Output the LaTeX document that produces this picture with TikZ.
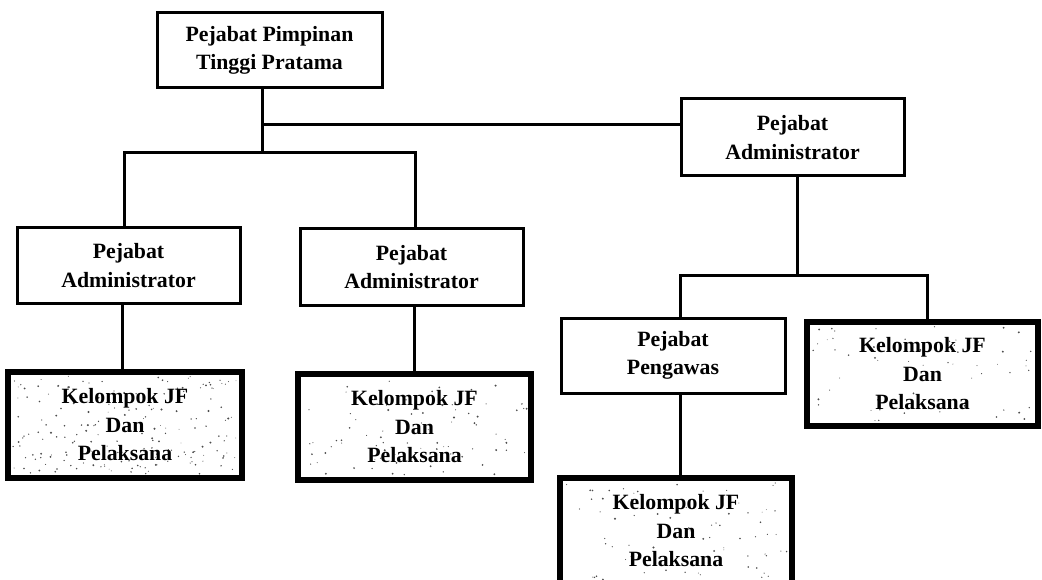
\documentclass[tikz,border=0pt]{standalone}
\usepackage{fontspec}
\setmainfont{Liberation Serif}
\usetikzlibrary{calc}

% light scatter of dots inside a group box
\newcommand\speckles[2]{%
  \coordinate (spA) at ($(#1.south west)+(7,-7)$);
  \coordinate (spB) at ($(#1.north east)+(-7,7)$);
  \foreach \i in {1,...,#2}{%
    \pgfmathsetmacro\spx{rnd}%
    \pgfmathsetmacro\spy{rnd}%
    \pgfmathsetmacro\spr{0.4+0.7*rnd}%
    \coordinate (spX) at ($(spA)!\spx!(spA -| spB)$);
    \coordinate (spY) at ($(spA)!\spy!(spA |- spB)$);
    \fill[black!70] (spX |- spY) circle (\spr pt);
  }%
}

\begin{document}
\begin{tikzpicture}[x=1pt,y=-1pt,
  txt/.style={font=\bfseries\fontsize{21.8}{28.5}\selectfont, align=center, inner sep=0pt},
  box/.style={draw, txt, line width=3pt},
  group/.style={draw, txt, line width=5.5pt},
  link/.style={line width=3pt}]

\fill[white] (0,0) rectangle (1042,580);
\useasboundingbox (0,0) rectangle (1042,580);
\pgfmathsetseed{4127}

% offices
\node[box, minimum width=225pt, minimum height=75pt] (top) at (269.5,50.5) {Pejabat Pimpinan\\Tinggi Pratama};
\node[box, minimum width=223pt, minimum height=77pt] (adminR) at (792.5,137.5) {Pejabat\\Administrator};
\node[box, minimum width=223pt, minimum height=75pt] (adminL) at (128.5,265.5) {Pejabat\\Administrator};
\node[box, minimum width=223pt, minimum height=76pt] (adminM) at (411.5,267) {Pejabat\\Administrator};
\node[box, minimum width=224pt, minimum height=75pt] (peng) at (673,355.5) {Pejabat\\Pengawas};

% groups of functional staff
\path (125,425) coordinate (kLc) (414.5,427) coordinate (kMc) (922.5,374) coordinate (kRc) (676,531) coordinate (kBc);
\node[group, minimum width=234pt, minimum height=106pt] (kL) at (kLc) {};
\node[group, minimum width=233pt, minimum height=106pt] (kM) at (kMc) {};
\node[group, minimum width=231pt, minimum height=104pt] (kR) at (kRc) {};
\node[group, minimum width=232pt, minimum height=106pt] (kB) at (kBc) {};

\speckles{kL}{190}
\speckles{kM}{80}
\speckles{kR}{60}
\speckles{kB}{75}

\node[txt] at (kL) {Kelompok JF\\Dan\\Pelaksana};
\node[txt] at (kM) {Kelompok JF\\Dan\\Pelaksana};
\node[txt] at (kR) {Kelompok JF\\Dan\\Pelaksana};
\node[txt] at (kB) {Kelompok JF\\Dan\\Pelaksana};

% connectors from the top office
\coordinate (hubA) at (262,125);
\coordinate (hubB) at (262,153);
\draw[link] (hubA |- top.south) -- (hubB);
\draw[link] (hubA) -- (hubA -| adminR.west);
\coordinate (busL) at ([xshift=-4.5pt]adminL.north);
\coordinate (busM) at ([xshift=3.5pt]adminM.north);
\draw[link] (busL) |- (busM |- hubB) -- (busM);

% left and middle administrators to their groups
\coordinate (l1) at ([xshift=-6pt]adminL.south);
\draw[link] (l1) -- (l1 |- kL.north);
\coordinate (m1) at ([xshift=2.5pt]adminM.south);
\draw[link] (m1) -- (m1 |- kM.north);

% right administrator branch
\coordinate (r1) at ([xshift=4.5pt]adminR.south);
\coordinate (hubR) at ($(r1)+(0,98)$);
\draw[link] (r1) -- (hubR);
\coordinate (p1) at ([xshift=7pt]peng.north);
\coordinate (q1) at ([xshift=4.5pt]kR.north);
\draw[link] (p1) |- (q1 |- hubR) -- (q1);
\coordinate (p2) at ([xshift=7pt]peng.south);
\draw[link] (p2) -- (p2 |- kB.north);
\end{tikzpicture}
\end{document}
